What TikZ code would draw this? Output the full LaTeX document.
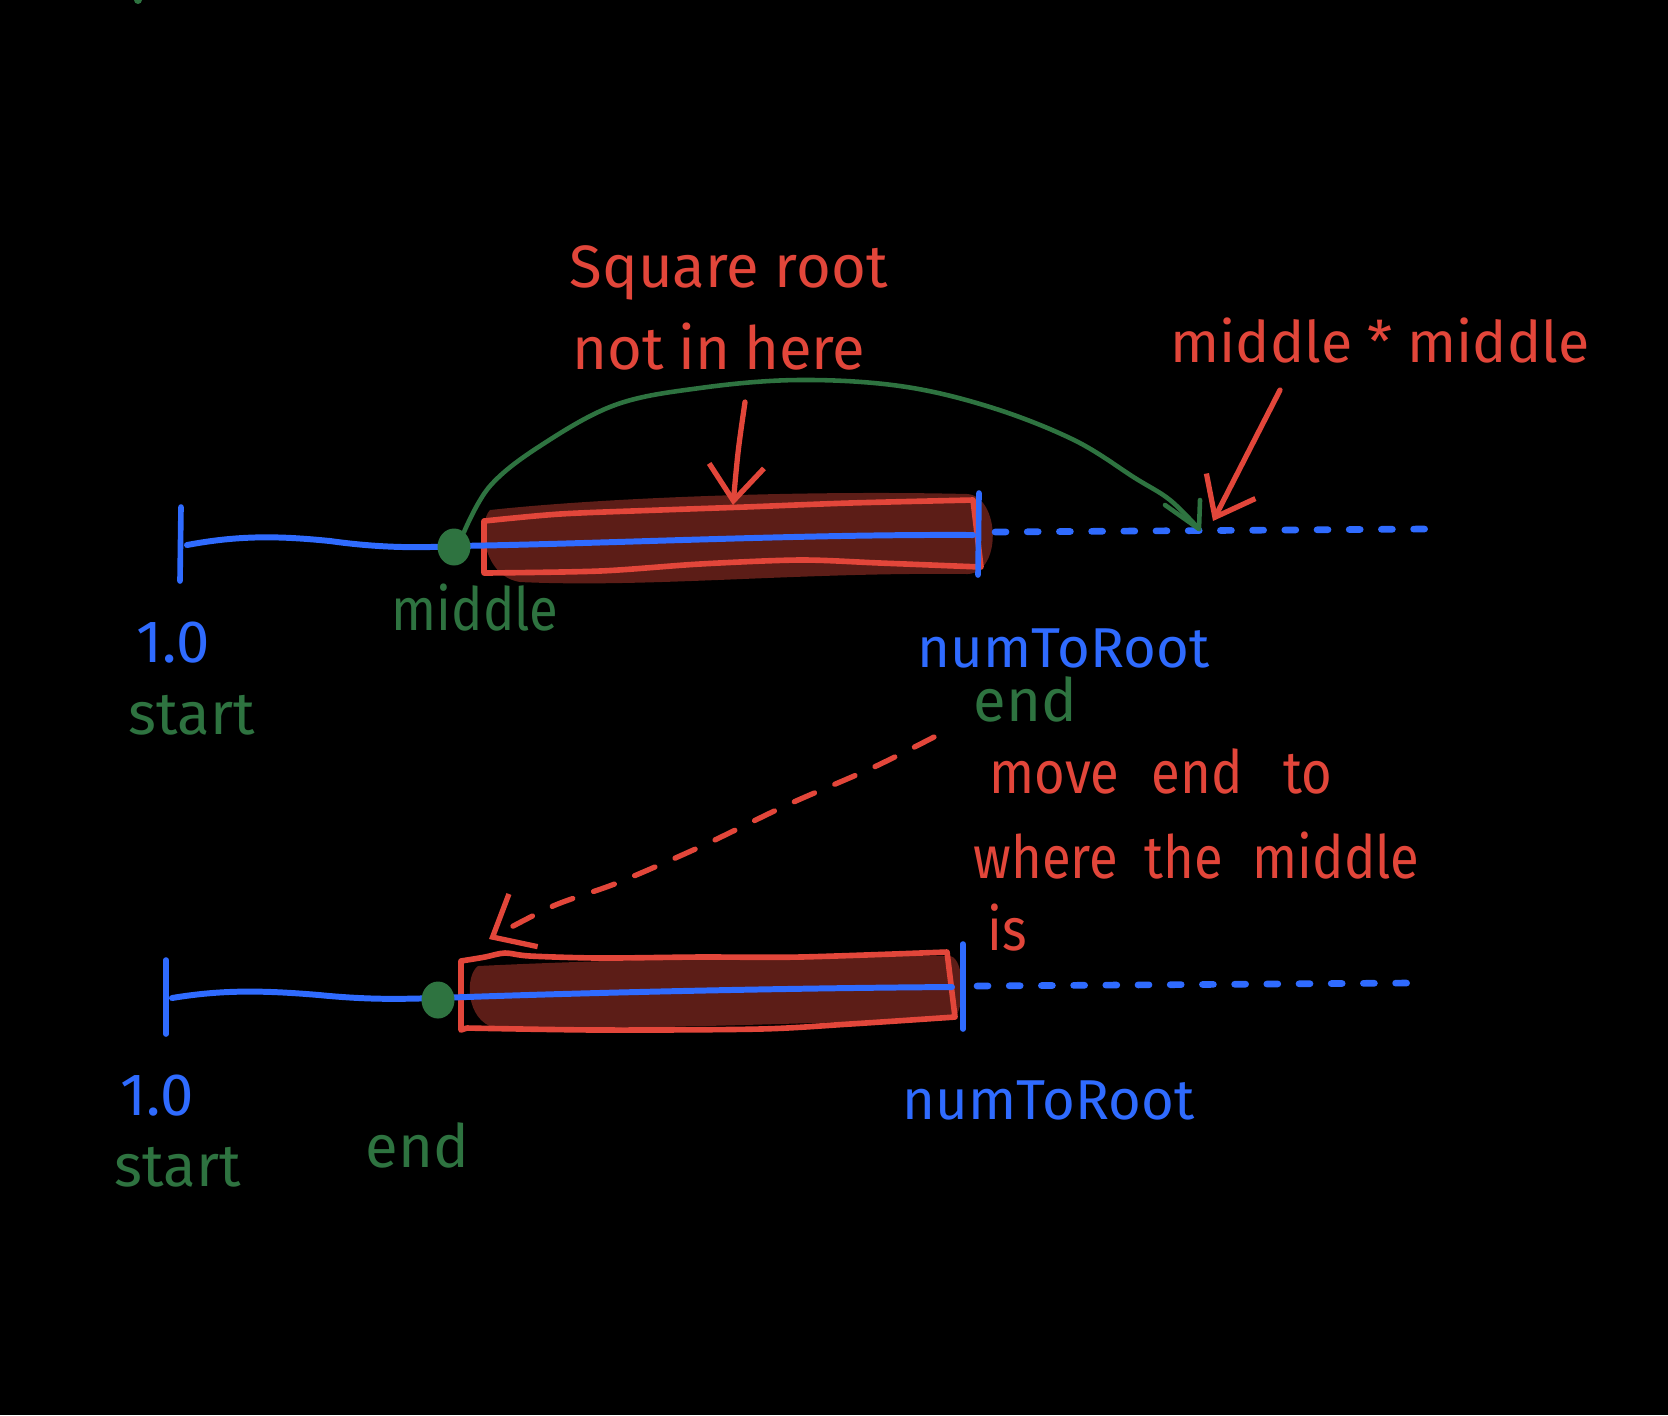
\documentclass[tikz,border=0pt]{standalone}
\usepackage{fontspec}
\setmainfont{Fira Sans}
\newfontfamily\narrowfont{Fira Sans}[FakeStretch=0.88]
\usetikzlibrary{arrows.meta,shapes.geometric}
\definecolor{inkblue}{HTML}{2F6BFF}
\definecolor{inkred}{HTML}{E2463A}
\definecolor{inkgreen}{HTML}{2E7340}
\definecolor{blobred}{HTML}{5C1D17}
\begin{document}
\begin{tikzpicture}[x=0.1mm,y=-0.1mm,
  blueline/.style={draw=inkblue,line width=1.7pt,line cap=round,line join=round},
  tickline/.style={draw=inkblue,line width=1.6pt,line cap=round},
  dotline/.style={draw=inkblue,line width=1.9pt,line cap=round,dash pattern=on 1.1mm off 2.12mm},
  boxline/.style={draw=inkred,line width=1.6pt,line join=round,line cap=round},
  redarrow/.style={draw=inkred,line width=1.5pt,line cap=round,-{Straight Barb[length=3.5mm,width=5.5mm,line width=1.5pt]}},
  reddash/.style={draw=inkred,line width=1.5pt,line cap=round,dash pattern=on 2.2mm off 2.2mm,-{Straight Barb[length=3.5mm,width=6mm,line width=1.5pt]}},
  greenline/.style={draw=inkgreen,line width=1.3pt,line cap=round,line join=round},
  gdot/.style={ellipse,fill=inkgreen,minimum width=3.3mm,minimum height=3.7mm,inner sep=0pt},
  lbl/.style={font=\fontsize{17}{20}\selectfont,inner sep=0pt,anchor=base west},
  nlbl/.style={font=\fontsize{17}{20}\narrowfont,inner sep=0pt,anchor=base west},
  rtxt/.style={lbl,text=inkred},
  rntxt/.style={nlbl,text=inkred},
  btxt/.style={lbl,text=inkblue},
  gtxt/.style={lbl,text=inkgreen}]
\fill[black] (0,0) rectangle (1668,1415);
\useasboundingbox (0,0) rectangle (1668,1415);
\fill[inkgreen] (138,0) circle [radius=0.4mm];

% ---------- top number line ----------
\fill[blobred] (490,510) .. controls (600,498) and (800,490) .. (968,494)
  .. controls (1000,498) and (1002,572) .. (968,574)
  .. controls (800,572) and (650,588) .. (520,582)
  .. controls (482,576) and (478,522) .. (490,510) -- cycle;
\draw[boxline] plot[smooth] coordinates {(484,521) (560,514) (660,510) (745,507) (850,503) (973,500)}
  -- (981,567)
  -- plot[smooth] coordinates {(981,567) (880,563) (800,560) (700,564) (600,571) (484,573)} -- cycle;
\coordinate (t1a) at (181,507); \coordinate (t1b) at (180,581);
\coordinate (t2a) at (979,493); \coordinate (t2b) at (978,575);
\draw[tickline] (t1a) -- (t1b);
\draw[tickline] (t2a) -- (t2b);
\draw[blueline] (187,545) .. controls (240,535) and (280,536) .. (330,541)
  .. controls (380,548) and (420,548) .. (454,546)
  .. controls (600,544) and (800,534) .. (973,535);
\coordinate (dotA) at (995,532); \coordinate (dotB) at (1425,529);
\draw[dotline] (dotA) -- (dotB);
\node[gdot] (mid1) at (454,547) {};
\coordinate (gtip) at (1199,529);
\coordinate (gbarbL) at (1165,505); \coordinate (gbarbR) at (1200,500);
\draw[greenline] plot[smooth,tension=0.6] coordinates {(464,532) (490,486) (540,446) (615,405) (700,388) (798,380) (900,386) (990,407) (1074,440) (1135,478) (1170,500) (gtip)};
\draw[greenline] (gbarbL) -- (gtip) -- (gbarbR);

\coordinate (a1s) at (745,402); \coordinate (a1e) at (733,505);
\draw[redarrow] (a1s) .. controls (738,450) .. (a1e);
\coordinate (a2s) at (1280,390); \coordinate (a2e) at (1213,521);
\draw[redarrow] (a2s) -- (a2e);

\node[rtxt] (sq) at (569,287) {Square root};
\node[rtxt] (nih) at (572,369) {not\hspace{1.4mm}in\hspace{1.4mm}here};
\node[rtxt,font=\fontsize{16.3}{20}\selectfont] (mm) at (1170,362) {middle * middle};
\node[nlbl,text=inkgreen] (midl) at (391,630) {middle};
\node[btxt] (one1) at (136,662) {1.0};
\node[gtxt] (st1) at (128,734) {start};
\node[btxt,font=\fontsize{16}{20}\selectfont] (ntr1) at (917,667) {numToRoot};
\node[gtxt] (end1) at (973,721) {end};
\node[rntxt] (mv) at (989,793) {move\hspace{3.2mm}end\hspace{4.1mm}to};
\node[rntxt] (wh) at (973,878) {where\hspace{2.6mm}the\hspace{3mm}middle};
\node[rntxt] (is) at (987,950) {is};

% dashed arrow
\coordinate (dsS) at (934,737); \coordinate (dsE) at (489,939);
\draw[reddash] plot[smooth] coordinates {(dsS) (872,768) (787,805) (702,846) (617,883) (553,906) (dsE)};

% ---------- bottom number line ----------
\fill[blobred] (478,966) .. controls (600,960) and (800,955) .. (950,956)
  .. controls (966,958) and (966,1018) .. (950,1020)
  .. controls (800,1022) and (650,1030) .. (495,1028)
  .. controls (465,1020) and (465,975) .. (478,966) -- cycle;
\draw[boxline] plot[smooth] coordinates {(461,961) (485,957) (505,953) (530,956) (600,958) (700,957) (800,957) (947,952)}
  -- (955,1017)
  -- plot[smooth] coordinates {(955,1017) (850,1024) (760,1029) (600,1030) (467,1028)} -- (461,1030) -- cycle;
\coordinate (t3a) at (166,960); \coordinate (t3b) at (166,1034);
\coordinate (t4a) at (963,944); \coordinate (t4b) at (963,1029);
\draw[tickline] (t3a) -- (t3b);
\draw[tickline] (t4a) -- (t4b);
\draw[blueline] (172,998) .. controls (220,990) and (260,990) .. (319,995)
  .. controls (370,1000) and (400,999) .. (438,998)
  .. controls (600,992) and (800,988) .. (952,987);
\coordinate (dotC) at (977,986); \coordinate (dotD) at (1410,983);
\draw[dotline] (dotC) -- (dotD);
\node[gdot] (mid2) at (438,1000) {};

\node[btxt] (one2) at (120,1115) {1.0};
\node[gtxt] (st2) at (114,1186) {start};
\node[gtxt] (end2) at (365,1167) {end};
\node[btxt,font=\fontsize{16}{20}\selectfont] (ntr2) at (902,1119) {numToRoot};
\end{tikzpicture}
\end{document}
